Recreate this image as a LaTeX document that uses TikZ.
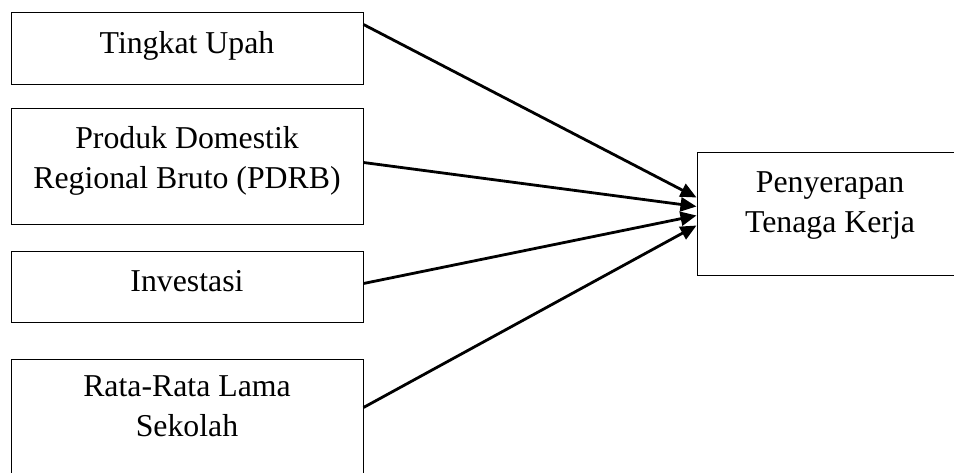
\documentclass[tikz,border=0pt]{standalone}
\usepackage{fontspec}
\setmainfont{Liberation Serif}
\usetikzlibrary{arrows.meta,calc}
\begin{document}
\begin{tikzpicture}[x=1pt,y=-1pt,
  box/.style={draw,line width=1pt,rectangle,inner sep=0pt},
  lbl/.style={anchor=north,inner sep=0pt,align=center,font=\fontsize{31.8}{39.5}\selectfont},
  conn/.style={line width=2.8pt,-{Triangle[length=16pt,width=14pt]}}]
\useasboundingbox (0,0) rectangle (954,473);
\begin{scope}
\clip (0,0) rectangle (954,473);
\node[box,minimum width=352pt,minimum height=72pt] (a) at (187,49) {};
\node[box,minimum width=352pt,minimum height=116pt] (b) at (187,167) {};
\node[box,minimum width=352pt,minimum height=71pt] (c) at (187,287.5) {};
\node[box,minimum width=352pt,minimum height=118pt] (d) at (187,418) {};
\node[box,minimum width=266pt,minimum height=123pt] (t) at (830,214.5) {};
\node[lbl] (la) at (187,31.5) {Tingkat Upah};
\node[lbl] (lb) at (187,126.5) {Produk Domestik\\Regional Bruto (PDRB)};
\node[lbl] (lc) at (187,270.5) {Investasi};
\node[lbl] (ld) at (187,375.5) {Rata-Rata Lama\\Sekolah};
\node[lbl] (lt) at (830,171.5) {Penyerapan\\Tenaga Kerja};
\coordinate (sa) at ([yshift=-12pt]a.north east);
\coordinate (sb) at ([yshift=-54pt]b.north east);
\coordinate (sc) at ([yshift=-32pt]c.north east);
\coordinate (sd) at ([yshift=-49pt]d.north east);
\coordinate (ea) at ([yshift=-45pt]t.north west);
\coordinate (eb) at ([yshift=-54pt]t.north west);
\coordinate (ec) at ([yshift=-63pt]t.north west);
\coordinate (ed) at ([yshift=-73pt]t.north west);
\draw[conn] (sa) -- (ea);
\draw[conn] (sb) -- (eb);
\draw[conn] (sc) -- (ec);
\draw[conn] (sd) -- (ed);
\end{scope}
\end{tikzpicture}
\end{document}
